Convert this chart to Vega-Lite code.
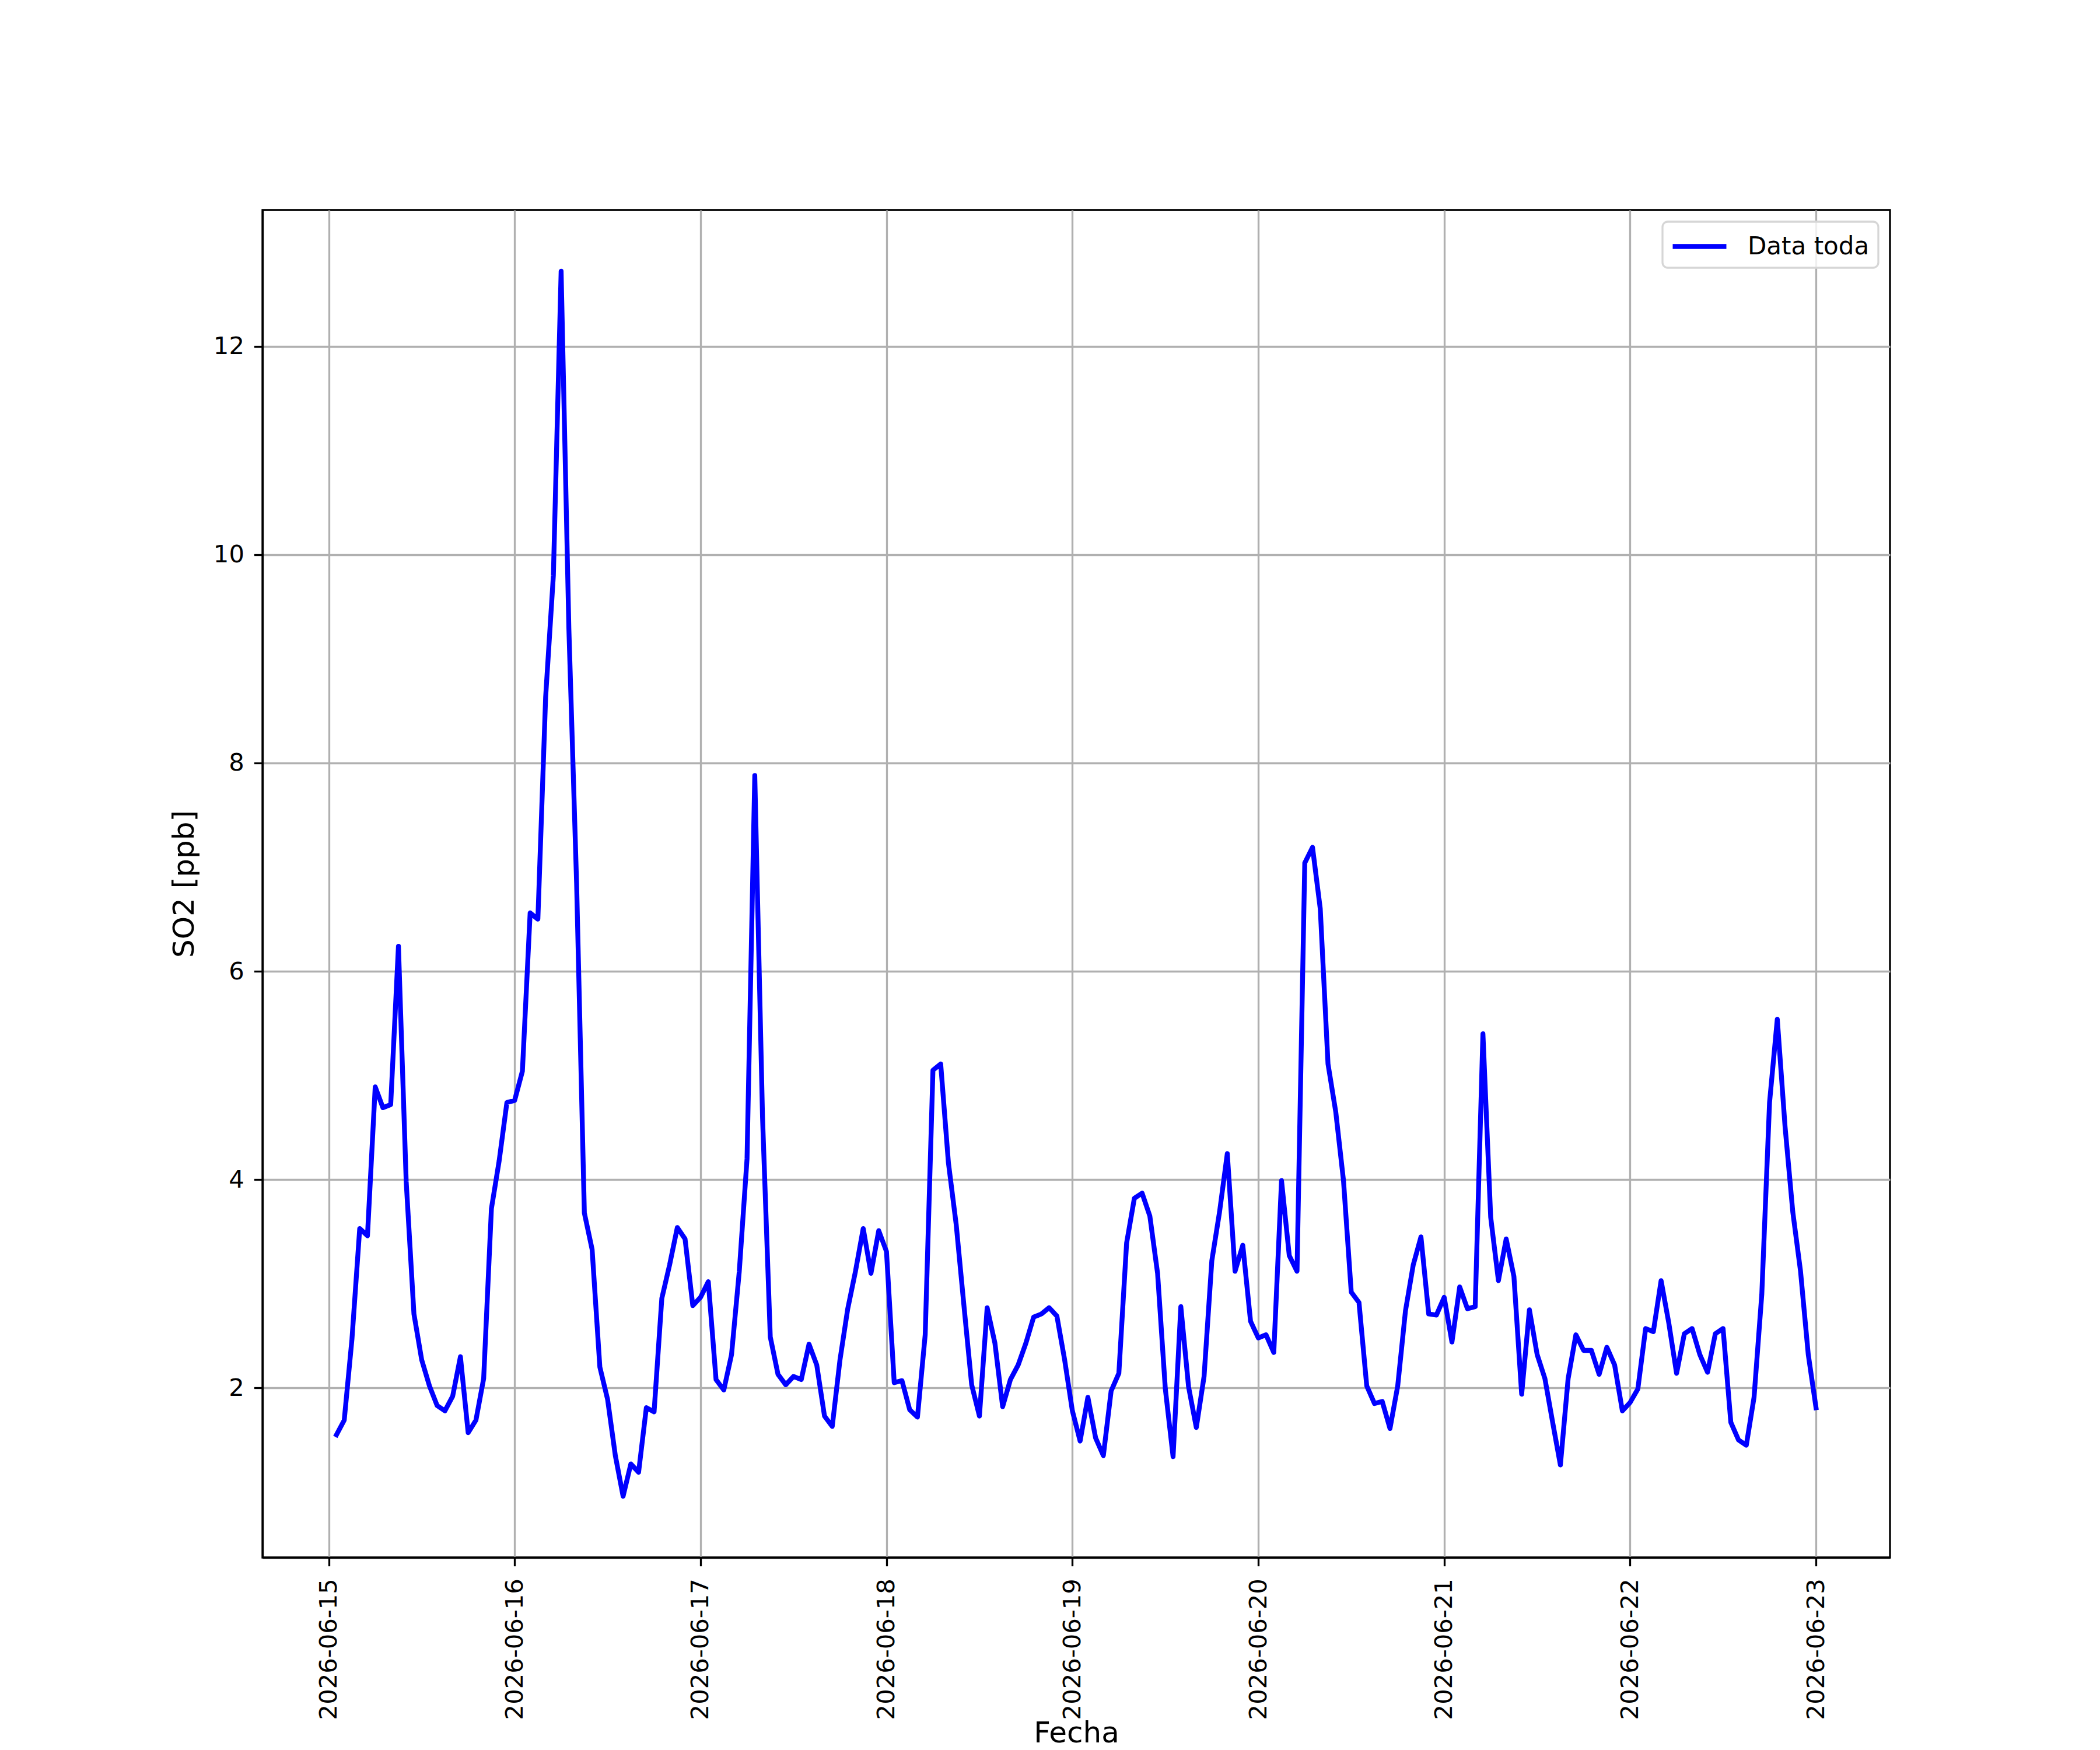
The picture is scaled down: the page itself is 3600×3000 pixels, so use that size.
{
  "$schema": "https://vega.github.io/schema/vega-lite/v6.json",
  "autosize": {"type": "none"},
  "padding": {"left": 450, "top": 360, "right": 360, "bottom": 330},
  "width": 2790,
  "height": 2310,
  "background": "white",
  "data": {
    "values": [
      {"t": "2026-06-15T01:00:00", "v": 1.55}, {"t": "2026-06-15T02:00:00", "v": 1.69}, {"t": "2026-06-15T03:00:00", "v": 2.47}, {"t": "2026-06-15T04:00:00", "v": 3.53},
      {"t": "2026-06-15T05:00:00", "v": 3.46}, {"t": "2026-06-15T06:00:00", "v": 4.89}, {"t": "2026-06-15T07:00:00", "v": 4.69}, {"t": "2026-06-15T08:00:00", "v": 4.72},
      {"t": "2026-06-15T09:00:00", "v": 6.24}, {"t": "2026-06-15T10:00:00", "v": 3.98}, {"t": "2026-06-15T11:00:00", "v": 2.71}, {"t": "2026-06-15T12:00:00", "v": 2.27},
      {"t": "2026-06-15T13:00:00", "v": 2.02}, {"t": "2026-06-15T14:00:00", "v": 1.83}, {"t": "2026-06-15T15:00:00", "v": 1.78}, {"t": "2026-06-15T16:00:00", "v": 1.92},
      {"t": "2026-06-15T17:00:00", "v": 2.30}, {"t": "2026-06-15T18:00:00", "v": 1.57}, {"t": "2026-06-15T19:00:00", "v": 1.69}, {"t": "2026-06-15T20:00:00", "v": 2.09},
      {"t": "2026-06-15T21:00:00", "v": 3.72}, {"t": "2026-06-15T22:00:00", "v": 4.18}, {"t": "2026-06-15T23:00:00", "v": 4.74}, {"t": "2026-06-16T00:00:00", "v": 4.76},
      {"t": "2026-06-16T01:00:00", "v": 5.04}, {"t": "2026-06-16T02:00:00", "v": 6.56}, {"t": "2026-06-16T03:00:00", "v": 6.50}, {"t": "2026-06-16T04:00:00", "v": 8.63},
      {"t": "2026-06-16T05:00:00", "v": 9.80}, {"t": "2026-06-16T06:00:00", "v": 12.72}, {"t": "2026-06-16T07:00:00", "v": 9.29}, {"t": "2026-06-16T08:00:00", "v": 6.84},
      {"t": "2026-06-16T09:00:00", "v": 3.68}, {"t": "2026-06-16T10:00:00", "v": 3.33}, {"t": "2026-06-16T11:00:00", "v": 2.20}, {"t": "2026-06-16T12:00:00", "v": 1.89},
      {"t": "2026-06-16T13:00:00", "v": 1.35}, {"t": "2026-06-16T14:00:00", "v": 0.96}, {"t": "2026-06-16T15:00:00", "v": 1.27}, {"t": "2026-06-16T16:00:00", "v": 1.19},
      {"t": "2026-06-16T17:00:00", "v": 1.81}, {"t": "2026-06-16T18:00:00", "v": 1.77}, {"t": "2026-06-16T19:00:00", "v": 2.86}, {"t": "2026-06-16T20:00:00", "v": 3.18},
      {"t": "2026-06-16T21:00:00", "v": 3.54}, {"t": "2026-06-16T22:00:00", "v": 3.43}, {"t": "2026-06-16T23:00:00", "v": 2.79}, {"t": "2026-06-17T00:00:00", "v": 2.87},
      {"t": "2026-06-17T01:00:00", "v": 3.02}, {"t": "2026-06-17T02:00:00", "v": 2.08}, {"t": "2026-06-17T03:00:00", "v": 1.98}, {"t": "2026-06-17T04:00:00", "v": 2.32},
      {"t": "2026-06-17T05:00:00", "v": 3.12}, {"t": "2026-06-17T06:00:00", "v": 4.20}, {"t": "2026-06-17T07:00:00", "v": 7.88}, {"t": "2026-06-17T08:00:00", "v": 4.60},
      {"t": "2026-06-17T09:00:00", "v": 2.49}, {"t": "2026-06-17T10:00:00", "v": 2.13}, {"t": "2026-06-17T11:00:00", "v": 2.03}, {"t": "2026-06-17T12:00:00", "v": 2.11},
      {"t": "2026-06-17T13:00:00", "v": 2.08}, {"t": "2026-06-17T14:00:00", "v": 2.42}, {"t": "2026-06-17T15:00:00", "v": 2.22}, {"t": "2026-06-17T16:00:00", "v": 1.73},
      {"t": "2026-06-17T17:00:00", "v": 1.63}, {"t": "2026-06-17T18:00:00", "v": 2.27}, {"t": "2026-06-17T19:00:00", "v": 2.76}, {"t": "2026-06-17T20:00:00", "v": 3.12},
      {"t": "2026-06-17T21:00:00", "v": 3.53}, {"t": "2026-06-17T22:00:00", "v": 3.10}, {"t": "2026-06-17T23:00:00", "v": 3.51}, {"t": "2026-06-18T00:00:00", "v": 3.31},
      {"t": "2026-06-18T01:00:00", "v": 2.05}, {"t": "2026-06-18T02:00:00", "v": 2.07}, {"t": "2026-06-18T03:00:00", "v": 1.79}, {"t": "2026-06-18T04:00:00", "v": 1.72},
      {"t": "2026-06-18T05:00:00", "v": 2.51}, {"t": "2026-06-18T06:00:00", "v": 5.05}, {"t": "2026-06-18T07:00:00", "v": 5.11}, {"t": "2026-06-18T08:00:00", "v": 4.16},
      {"t": "2026-06-18T09:00:00", "v": 3.57}, {"t": "2026-06-18T10:00:00", "v": 2.79}, {"t": "2026-06-18T11:00:00", "v": 2.03}, {"t": "2026-06-18T12:00:00", "v": 1.73},
      {"t": "2026-06-18T13:00:00", "v": 2.77}, {"t": "2026-06-18T14:00:00", "v": 2.43}, {"t": "2026-06-18T15:00:00", "v": 1.82}, {"t": "2026-06-18T16:00:00", "v": 2.08},
      {"t": "2026-06-18T17:00:00", "v": 2.22}, {"t": "2026-06-18T18:00:00", "v": 2.43}, {"t": "2026-06-18T19:00:00", "v": 2.68}, {"t": "2026-06-18T20:00:00", "v": 2.71},
      {"t": "2026-06-18T21:00:00", "v": 2.77}, {"t": "2026-06-18T22:00:00", "v": 2.69}, {"t": "2026-06-18T23:00:00", "v": 2.27}, {"t": "2026-06-19T00:00:00", "v": 1.78},
      {"t": "2026-06-19T01:00:00", "v": 1.49}, {"t": "2026-06-19T02:00:00", "v": 1.91}, {"t": "2026-06-19T03:00:00", "v": 1.52}, {"t": "2026-06-19T04:00:00", "v": 1.35},
      {"t": "2026-06-19T05:00:00", "v": 1.97}, {"t": "2026-06-19T06:00:00", "v": 2.14}, {"t": "2026-06-19T07:00:00", "v": 3.39}, {"t": "2026-06-19T08:00:00", "v": 3.82},
      {"t": "2026-06-19T09:00:00", "v": 3.87}, {"t": "2026-06-19T10:00:00", "v": 3.65}, {"t": "2026-06-19T11:00:00", "v": 3.10}, {"t": "2026-06-19T12:00:00", "v": 1.99},
      {"t": "2026-06-19T13:00:00", "v": 1.34}, {"t": "2026-06-19T14:00:00", "v": 2.78}, {"t": "2026-06-19T15:00:00", "v": 2.01}, {"t": "2026-06-19T16:00:00", "v": 1.62},
      {"t": "2026-06-19T17:00:00", "v": 2.11}, {"t": "2026-06-19T18:00:00", "v": 3.22}, {"t": "2026-06-19T19:00:00", "v": 3.69}, {"t": "2026-06-19T20:00:00", "v": 4.25},
      {"t": "2026-06-19T21:00:00", "v": 3.12}, {"t": "2026-06-19T22:00:00", "v": 3.37}, {"t": "2026-06-19T23:00:00", "v": 2.64}, {"t": "2026-06-20T00:00:00", "v": 2.48},
      {"t": "2026-06-20T01:00:00", "v": 2.51}, {"t": "2026-06-20T02:00:00", "v": 2.34}, {"t": "2026-06-20T03:00:00", "v": 3.99}, {"t": "2026-06-20T04:00:00", "v": 3.27},
      {"t": "2026-06-20T05:00:00", "v": 3.12}, {"t": "2026-06-20T06:00:00", "v": 7.04}, {"t": "2026-06-20T07:00:00", "v": 7.19}, {"t": "2026-06-20T08:00:00", "v": 6.60},
      {"t": "2026-06-20T09:00:00", "v": 5.11}, {"t": "2026-06-20T10:00:00", "v": 4.65}, {"t": "2026-06-20T11:00:00", "v": 3.99}, {"t": "2026-06-20T12:00:00", "v": 2.92},
      {"t": "2026-06-20T13:00:00", "v": 2.82}, {"t": "2026-06-20T14:00:00", "v": 2.02}, {"t": "2026-06-20T15:00:00", "v": 1.85}, {"t": "2026-06-20T16:00:00", "v": 1.87},
      {"t": "2026-06-20T17:00:00", "v": 1.61}, {"t": "2026-06-20T18:00:00", "v": 2.02}, {"t": "2026-06-20T19:00:00", "v": 2.74}, {"t": "2026-06-20T20:00:00", "v": 3.18},
      {"t": "2026-06-20T21:00:00", "v": 3.45}, {"t": "2026-06-20T22:00:00", "v": 2.71}, {"t": "2026-06-20T23:00:00", "v": 2.70}, {"t": "2026-06-21T00:00:00", "v": 2.87},
      {"t": "2026-06-21T01:00:00", "v": 2.44}, {"t": "2026-06-21T02:00:00", "v": 2.97}, {"t": "2026-06-21T03:00:00", "v": 2.76}, {"t": "2026-06-21T04:00:00", "v": 2.78},
      {"t": "2026-06-21T05:00:00", "v": 5.40}, {"t": "2026-06-21T06:00:00", "v": 3.64}, {"t": "2026-06-21T07:00:00", "v": 3.03}, {"t": "2026-06-21T08:00:00", "v": 3.43},
      {"t": "2026-06-21T09:00:00", "v": 3.07}, {"t": "2026-06-21T10:00:00", "v": 1.94}, {"t": "2026-06-21T11:00:00", "v": 2.75}, {"t": "2026-06-21T12:00:00", "v": 2.32},
      {"t": "2026-06-21T13:00:00", "v": 2.09}, {"t": "2026-06-21T14:00:00", "v": 1.67}, {"t": "2026-06-21T15:00:00", "v": 1.26}, {"t": "2026-06-21T16:00:00", "v": 2.09},
      {"t": "2026-06-21T17:00:00", "v": 2.51}, {"t": "2026-06-21T18:00:00", "v": 2.36}, {"t": "2026-06-21T19:00:00", "v": 2.36}, {"t": "2026-06-21T20:00:00", "v": 2.13},
      {"t": "2026-06-21T21:00:00", "v": 2.39}, {"t": "2026-06-21T22:00:00", "v": 2.22}, {"t": "2026-06-21T23:00:00", "v": 1.78}, {"t": "2026-06-22T00:00:00", "v": 1.86},
      {"t": "2026-06-22T01:00:00", "v": 1.99}, {"t": "2026-06-22T02:00:00", "v": 2.57}, {"t": "2026-06-22T03:00:00", "v": 2.54}, {"t": "2026-06-22T04:00:00", "v": 3.03},
      {"t": "2026-06-22T05:00:00", "v": 2.62}, {"t": "2026-06-22T06:00:00", "v": 2.14}, {"t": "2026-06-22T07:00:00", "v": 2.52}, {"t": "2026-06-22T08:00:00", "v": 2.57},
      {"t": "2026-06-22T09:00:00", "v": 2.32}, {"t": "2026-06-22T10:00:00", "v": 2.15}, {"t": "2026-06-22T11:00:00", "v": 2.52}, {"t": "2026-06-22T12:00:00", "v": 2.57},
      {"t": "2026-06-22T13:00:00", "v": 1.67}, {"t": "2026-06-22T14:00:00", "v": 1.50}, {"t": "2026-06-22T15:00:00", "v": 1.45}, {"t": "2026-06-22T16:00:00", "v": 1.91},
      {"t": "2026-06-22T17:00:00", "v": 2.90}, {"t": "2026-06-22T18:00:00", "v": 4.74}, {"t": "2026-06-22T19:00:00", "v": 5.54}, {"t": "2026-06-22T20:00:00", "v": 4.51},
      {"t": "2026-06-22T21:00:00", "v": 3.69}, {"t": "2026-06-22T22:00:00", "v": 3.12}, {"t": "2026-06-22T23:00:00", "v": 2.32}, {"t": "2026-06-23T00:00:00", "v": 1.81}
    ]
  },
  "mark": {"type": "line", "strokeWidth": 8.3, "strokeJoin": "round", "strokeCap": "square"},
  "encoding": {
    "x": {
      "field": "t",
      "type": "temporal",
      "title": "Fecha",
      "scale": {
        "domain": [
          {"year": 2026, "month": 6, "date": 14, "hours": 15, "minutes": 27},
          {"year": 2026, "month": 6, "date": 23, "hours": 9, "minutes": 33}
        ],
        "nice": false
      },
      "axis": {
        "values": [
          {"year": 2026, "month": 6, "date": 15}, {"year": 2026, "month": 6, "date": 16},
          {"year": 2026, "month": 6, "date": 17}, {"year": 2026, "month": 6, "date": 18},
          {"year": 2026, "month": 6, "date": 19}, {"year": 2026, "month": 6, "date": 20},
          {"year": 2026, "month": 6, "date": 21}, {"year": 2026, "month": 6, "date": 22},
          {"year": 2026, "month": 6, "date": 23}
        ],
        "format": "%Y-%m-%d",
        "labelAngle": 270,
        "labelAlign": "right",
        "labelBaseline": "middle",
        "labelPadding": 21,
        "titleY": 316,
        "titleBaseline": "alphabetic"
      }
    },
    "y": {
      "field": "v",
      "type": "quantitative",
      "title": "SO2 [ppb]",
      "scale": {"domain": [0.372, 13.308], "nice": false, "zero": false},
      "axis": {"values": [2, 4, 6, 8, 10, 12], "labelPadding": 17, "titlePadding": 24}
    },
    "color": {
      "datum": "Data toda",
      "scale": {"range": ["#0000ff"]},
      "legend": {
        "title": null,
        "orient": "top-right",
        "offset": 20,
        "symbolType": "M-2,0H2",
        "symbolSize": 2116,
        "symbolStrokeWidth": 8.3,
        "symbolOffset": 21,
        "labelFont": "DejaVu Sans",
        "labelFontSize": 42,
        "labelColor": "black",
        "labelLimit": 0,
        "labelOffset": 55,
        "padding": 15,
        "strokeColor": "#d6d6d6",
        "cornerRadius": 9,
        "fillColor": "rgba(255,255,255,0.8)",
        "encode": {"legend": {"update": {"strokeWidth": {"value": 3.3}}}}
      }
    }
  },
  "config": {
    "font": "DejaVu Sans",
    "view": {"stroke": "black", "strokeWidth": 3.3},
    "axis": {
      "grid": true,
      "gridColor": "#b0b0b0",
      "gridWidth": 3.3,
      "gridOpacity": 1,
      "domainColor": "black",
      "domainWidth": 3.3,
      "tickColor": "black",
      "tickWidth": 3.3,
      "tickSize": 14.6,
      "labelFont": "DejaVu Sans",
      "labelFontSize": 41.7,
      "labelColor": "black",
      "labelLimit": 0,
      "labelOverlap": false,
      "labelFlush": false,
      "titleFont": "DejaVu Sans",
      "titleFontSize": 50,
      "titleFontWeight": "normal",
      "titleColor": "black"
    }
  }
}
